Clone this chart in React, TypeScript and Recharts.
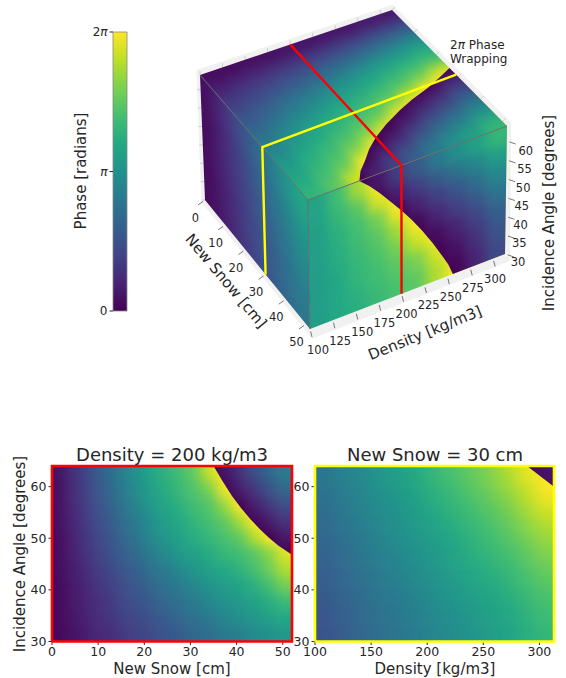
import React from 'react';
import { Bar, BarChart, Scatter, ScatterChart, XAxis, YAxis } from 'recharts';

const FONT = '"DejaVu Sans", sans-serif';
const INK = '#262626';

// Phase readings as percent of one 2-pi cycle, kept unwrapped (100 = one full wrap).
const snowTicks = [0, 10, 20, 30, 40, 50];
const densityTicks = [100, 150, 200, 250, 300];
const cubeDensityTicks = [100, 125, 150, 175, 200, 225, 250, 275, 300];
const angleTicks = [30, 40, 50, 60];
const cubeAngleTicks = [30, 35, 40, 45, 50, 55, 60];
const phaseTicks = [0, Math.PI, 2 * Math.PI];

const sliceSnow = [1.6, 4.9, 8.1, 11.4, 14.6, 17.9, 21.1, 24.4, 27.6, 30.9, 34.1, 37.4, 40.6, 43.9, 47.1, 50.4];
const sliceSnowAngle = [62.5, 59.5, 56.3, 53.2, 50.1, 47, 43.9, 40.8, 37.7, 34.6, 31.5];
const density200Phase = [
  [5, 14, 23, 32, 41, 50, 58, 64, 69, 76, 92, 105, 114, 124, 133, 142],
  [4, 13, 21, 30, 39, 47, 55, 61, 67, 72, 80, 98, 108, 116, 125, 134],
  [4, 12, 20, 28, 36, 44, 52, 58, 63, 69, 73, 84, 100, 108, 116, 124],
  [4, 11, 19, 26, 33, 41, 48, 55, 60, 65, 70, 75, 86, 101, 108, 115],
  [3, 10, 17, 24, 31, 38, 45, 52, 57, 62, 66, 71, 75, 88, 100, 107],
  [3, 9, 16, 22, 28, 34, 41, 47, 53, 57, 61, 66, 69, 74, 82, 95],
  [3, 8, 14, 19, 25, 30, 36, 41, 47, 52, 57, 60, 64, 70, 78, 88],
  [2, 7, 12, 17, 22, 27, 32, 37, 41, 46, 51, 55, 58, 63, 70, 79],
  [2, 7, 11, 15, 20, 24, 28, 33, 37, 41, 46, 50, 54, 57, 62, 68],
  [2, 6, 10, 14, 18, 21, 25, 29, 33, 37, 41, 45, 49, 53, 57, 60],
  [2, 5, 9, 12, 15, 19, 22, 26, 29, 33, 36, 40, 43, 47, 50, 53],
];
const density200Wrap = [[35, 64], [37, 61], [39, 58.2], [41, 55.8], [43, 53.7], [45, 51.8], [47, 50.1], [49, 48.6], [52, 46.8], [52, 64]];

const sliceDensity = [108.2, 124.6, 141, 157.4, 173.8, 190.2, 206.6, 223, 239.4, 255.8, 272.2, 288.6, 305];
const sliceDensityAngle = [62.1, 58.3, 54.6, 50.8, 47, 43.2, 39.4, 35.7, 31.9];
const snow30Phase = [
  [39, 43, 47, 52, 56, 61, 66, 71, 76, 81, 88, 96, 106],
  [37, 41, 45, 49, 53, 58, 63, 67, 72, 77, 83, 90, 99],
  [35, 39, 43, 47, 51, 55, 59, 64, 68, 73, 78, 85, 92],
  [33, 37, 41, 45, 49, 53, 56, 60, 65, 69, 74, 80, 86],
  [31, 35, 39, 43, 46, 50, 54, 58, 62, 66, 70, 75, 81],
  [30, 33, 37, 41, 44, 48, 51, 55, 59, 62, 66, 71, 76],
  [28, 32, 35, 39, 42, 45, 49, 52, 56, 59, 63, 67, 72],
  [27, 30, 34, 37, 40, 43, 47, 50, 53, 57, 60, 64, 69],
  [26, 29, 33, 36, 39, 42, 45, 48, 51, 55, 58, 62, 66],
];
const snow30Wrap = [[289, 64], [313, 60], [313, 64]];

// Cube faces
const faceSnow = [2, 6, 10, 14, 18, 22, 26, 30, 34, 38, 42, 46, 50];
const faceDensity = [110.65, 131.95, 153.25, 174.55, 195.85, 217.15, 238.45, 259.75, 281.05, 302.35];
const topPhase = [
  [3, 8, 14, 19, 25, 30, 36, 42, 47, 53, 57, 61, 65],
  [3, 10, 17, 23, 30, 36, 43, 50, 55, 61, 65, 69, 74],
  [4, 12, 19, 27, 35, 42, 50, 57, 61, 67, 71, 77, 92],
  [4, 13, 22, 30, 39, 47, 55, 61, 67, 73, 82, 100, 109],
  [5, 14, 24, 33, 43, 52, 59, 66, 72, 82, 101, 111, 120],
  [5, 16, 27, 37, 48, 57, 64, 70, 78, 98, 109, 119, 130],
  [6, 18, 29, 41, 53, 60, 69, 76, 96, 108, 119, 130, 141],
  [6, 19, 32, 45, 57, 65, 73, 90, 106, 117, 128, 139, 150],
  [7, 21, 35, 48, 59, 69, 80, 101, 112, 123, 135, 146, 157],
  [7, 22, 37, 52, 62, 72, 94, 109, 120, 132, 143, 155, 166],
];
const topWrap = [[52, 155], [49, 163], [46, 175], [43, 186], [40, 200], [37, 218], [34, 240], [32, 258], [30, 280], [28, 297], [26, 313], [52, 313]];

const faceAngle = [61.6, 56.7, 51.9, 47, 42.1, 37.3, 32.4];
const wallSnow = [3.25, 9.75, 16.25, 22.75, 29.25, 35.75, 42.25, 48.75];
const wallPhase = [
  [4, 12, 20, 28, 36, 44, 52, 59],
  [4, 11, 18, 26, 33, 40, 48, 55],
  [3, 10, 17, 24, 31, 38, 44, 51],
  [3, 10, 16, 22, 29, 35, 41, 48],
  [3, 9, 15, 21, 27, 33, 39, 45],
  [3, 8, 14, 20, 25, 31, 37, 42],
  [3, 8, 13, 19, 24, 30, 35, 40],
];
const frontPhase = [
  [58, 69, 86, 106, 118, 129, 140, 149, 157, 166],
  [57, 66, 74, 94, 108, 118, 128, 137, 145, 155],
  [56, 63, 70, 79, 98, 109, 118, 126, 135, 146],
  [55, 62, 68, 74, 86, 101, 110, 118, 126, 138],
  [55, 61, 66, 71, 79, 92, 103, 110, 119, 130],
  [55, 60, 65, 69, 74, 80, 94, 105, 114, 126],
  [55, 60, 63, 67, 71, 75, 88, 101, 110, 122],
];
const frontWrap = [[155, 64], [166, 61.6], [177, 58.7], [188, 55.5], [200, 52], [211, 48.6], [222, 44.8], [234, 40.2], [245, 35.6], [251, 33], [256, 30], [313, 30], [313, 64]];

const redPath = [[0, 200, 64], [52, 200, 64], [52, 200, 30]];
const yellowPath = [[29, 313, 64], [30, 100, 64], [30, 100, 30]];
const greyEdges = [
  [[0, 100, 64], [52, 100, 64]],
  [[52, 100, 64], [52, 313, 64]],
  [[52, 100, 64], [52, 100, 30]],
];

const VIRIDIS = ['#440154', '#482475', '#414487', '#355f8d', '#2a788e', '#21918c', '#22a884', '#44bf70', '#7ad151', '#bddf26', '#fde725'];
const hex = (h: string) => [1, 3, 5].map((i) => parseInt(h.slice(i, i + 2), 16));
function viridis(t: number) {
  const v = Math.max(0, Math.min(0.9999, t)) * 10;
  const i = Math.floor(v);
  const a = hex(VIRIDIS[i]);
  const b = hex(VIRIDIS[i + 1]);
  const c = a.map((q, k) => Math.round(q + (b[k] - q) * (v - i)));
  return `rgb(${c[0]},${c[1]},${c[2]})`;
}
const below = (p: number) => viridis(Math.min(p, 99.9) / 100);
const above = (p: number) => viridis(Math.max(p - 100, 0) / 100);

// ---- flat heatmaps
function heatCells(rows: number[][], xs: number[], ys: number[]) {
  return rows.flatMap((row, r) =>
    row.map((p, c) => ({
      x: xs[c],
      y: ys[r],
      p,
      left: c === 0,
      right: c === row.length - 1,
      top: r === 0,
      bottom: r === rows.length - 1,
    })),
  );
}

function makeHeatShape(w: number, h: number, colour: (p: number) => string) {
  return (props: any) => {
    const d = props.payload ?? props;
    const pad = 40;
    const x0 = props.cx - w / 2 - (d.left ? pad : 0);
    const x1 = props.cx + w / 2 + (d.right ? pad : 0);
    const y0 = props.cy - h / 2 - (d.top ? pad : 0);
    const y1 = props.cy + h / 2 + (d.bottom ? pad : 0);
    const fill = colour(d.p);
    return <rect x={x0} y={y0} width={x1 - x0} height={y1 - y0} fill={fill} stroke={fill} strokeWidth={0.6} />;
  };
}

type PanelProps = {
  id: string; chartLeft: number; width: number; plotLeft: number; plotRight: number;
  xMin: number; xMax: number; xTicks: number[]; rows: number[][]; xs: number[]; ys: number[];
  wrap: number[][]; title: string; titleX: number; xLabel: string; border: string; yTitle?: boolean; blur: number;
};
const PLOT_TOP = 26;
const PLOT_BOTTOM = 201.5;
const Y_MIN = 30;
const Y_MAX = 64;

function Panel(p: PanelProps) {
  const cells = heatCells(p.rows, p.xs, p.ys);
  const plotW = p.plotRight - p.plotLeft;
  const plotH = PLOT_BOTTOM - PLOT_TOP;
  const w = plotW / p.xs.length;
  const h = plotH / p.ys.length;
  const sx = (x: number) => p.plotLeft + ((x - p.xMin) / (p.xMax - p.xMin)) * plotW;
  const sy = (y: number) => PLOT_BOTTOM - ((y - Y_MIN) / (Y_MAX - Y_MIN)) * plotH;
  const tick = { fill: INK, fontSize: 12.5, fontFamily: FONT };
  const frame = [
    { x: p.xMin, y: Y_MIN }, { x: p.xMax, y: Y_MIN }, { x: p.xMax, y: Y_MAX }, { x: p.xMin, y: Y_MAX }, { x: p.xMin, y: Y_MIN },
  ];
  return (
    <div style={{ position: 'absolute', left: p.chartLeft, top: 440 }}>
      <style>{`.${p.id}-a{filter:blur(${p.blur}px);clip-path:url(#${p.id}-plot)}.${p.id}-b{filter:blur(${p.blur}px);clip-path:url(#${p.id}-wrap)}`}</style>
      <ScatterChart width={p.width} height={238} margin={{ top: PLOT_TOP, bottom: 0, left: 0, right: p.width - p.plotRight }}>
        <defs>
          <clipPath id={`${p.id}-plot`}>
            <rect x={p.plotLeft} y={PLOT_TOP} width={plotW} height={plotH} />
          </clipPath>
          <clipPath id={`${p.id}-wrap`}>
            <polygon points={p.wrap.map(([x, y]) => `${sx(x)},${sy(y)}`).join(' ')} />
          </clipPath>
        </defs>
        <XAxis type="number" dataKey="x" domain={[p.xMin, p.xMax]} ticks={p.xTicks} interval={0} height={36.5}
          axisLine={false} tick={tick} tickSize={3.5} tickMargin={2} tickLine={{ stroke: INK }} />
        <YAxis type="number" dataKey="y" domain={[Y_MIN, Y_MAX]} ticks={angleTicks} interval={0} width={p.plotLeft}
          axisLine={false} tick={tick} tickSize={3.5} tickMargin={2} tickLine={{ stroke: INK }} />
        <Scatter className={`${p.id}-a`} data={cells} isAnimationActive={false} shape={makeHeatShape(w, h, below)} />
        <Scatter className={`${p.id}-b`} data={cells} isAnimationActive={false} shape={makeHeatShape(w, h, above)} />
        <Scatter data={frame} line={{ stroke: p.border, strokeWidth: 2.6, strokeLinejoin: 'miter' }} isAnimationActive={false} shape={NoDot} />
        <text x={p.titleX} y={21} textAnchor="middle" fontFamily={FONT} fontSize={18} fill={INK}>{p.title}</text>
        <text x={p.titleX} y={234} textAnchor="middle" fontFamily={FONT} fontSize={15} fill={INK}>{p.xLabel}</text>
        {p.yTitle && (
          <text transform="translate(25,114) rotate(-90)" textAnchor="middle" fontFamily={FONT} fontSize={15} fill={INK}>
            Incidence Angle [degrees]
          </text>
        )}
      </ScatterChart>
    </div>
  );
}

// ---- cube projection: the eight corners of the box as they fall on the page
const CORNERS: Record<string, number[]> = {
  '000': [205, 200], '001': [200, 75],
  '010': [396, 127], '011': [392, 10],
  '100': [310, 329], '101': [308, 200],
  '110': [505, 254], '111': [507, 126],
};
function project(s: number, rho: number, ang: number): [number, number] {
  const u = s / 52;
  const v = (rho - 100) / 213;
  const w = (ang - 30) / 34;
  let x = 0;
  let y = 0;
  for (const a of [0, 1]) for (const b of [0, 1]) for (const c of [0, 1]) {
    const k = (a ? u : 1 - u) * (b ? v : 1 - v) * (c ? w : 1 - w);
    const q = CORNERS[`${a}${b}${c}`];
    x += k * q[0];
    y += k * q[1];
  }
  return [x, y];
}

function faceCells(rows: number[][], as: number[], bs: number[], map: (a: number, b: number) => [number, number]) {
  const da = (as[1] - as[0]) / 2;
  const db = (bs[1] - bs[0]) / 2;
  return rows.flatMap((row, i) =>
    row.map((p, j) => {
      const a = as[i];
      const b = bs[j];
      const a0 = a - da - (i === 0 ? 5 * da : 0);
      const a1 = a + da + (i === as.length - 1 ? 5 * da : 0);
      const b0 = b - db - (j === 0 ? 5 * db : 0);
      const b1 = b + db + (j === bs.length - 1 ? 5 * db : 0);
      const [x, y] = map(a, b);
      const poly = [map(a0, b0), map(a1, b0), map(a1, b1), map(a0, b1)].map(([px, py]) => [px - x, py - y]);
      return { x, y, p, poly };
    }),
  );
}

function makePolyShape(colour: (p: number) => string) {
  return (props: any) => {
    const d = props.payload ?? props;
    const fill = colour(d.p);
    const pts = d.poly.map(([dx, dy]: number[]) => `${props.cx + dx},${props.cy + dy}`).join(' ');
    return <polygon points={pts} fill={fill} stroke={fill} strokeWidth={0.6} />;
  };
}
const toPoints = (list: number[][]) => list.map(([s, r, a]) => { const [x, y] = project(s, r, a); return { x, y }; });
const polyAttr = (list: [number, number][]) => list.map(([x, y]) => `${x},${y}`).join(' ');

const topCells = faceCells(topPhase, faceDensity, faceSnow, (r, s) => project(s, r, 64));
const wallCells = faceCells(wallPhase, faceAngle, wallSnow, (a, s) => project(s, 100, a));
const frontCells = faceCells(frontPhase, faceAngle, faceDensity, (a, r) => project(52, r, a));

const topOutline = polyAttr([project(0, 100, 64), project(52, 100, 64), project(52, 313, 64), project(0, 313, 64)]);
const wallOutline = polyAttr([project(0, 100, 64), project(52, 100, 64), project(52, 100, 30), project(0, 100, 30)]);
const frontOutline = polyAttr([project(52, 100, 64), project(52, 313, 64), project(52, 313, 30), project(52, 100, 30)]);
const topWrapOutline = polyAttr(topWrap.map(([s, r]) => project(s, r, 64)));
const frontWrapOutline = polyAttr(frontWrap.map(([r, a]) => project(52, r, a)));
const paneOutline = polyAttr([
  project(-0.8, 98, 65), project(-0.5, 315, 65), project(52.5, 316, 65),
  project(53, 316.5, 28.5), project(53.5, 99, 28.5), project(-1, 98, 29),
]);

type TickPoint = { x: number; y: number; label: string; tx: number; ty: number; lx: number; ly: number; from: number; stroke: string };
const snowTickPts: TickPoint[] = snowTicks.map((t) => {
  const [x, y] = project(t, 100, 30);
  return { x, y, label: String(t), tx: -9.5, ty: 18, lx: -7, ly: 5, from: 0.3, stroke: '#555' };
});
const densityTickPts: TickPoint[] = cubeDensityTicks.map((t) => {
  const [x, y] = project(52, t, 30);
  return { x, y, label: String(t), tx: 8 - (6 * (t - 100)) / 200, ty: 20.5, lx: 2, ly: 8, from: 0.3, stroke: '#555' };
});
const angleTickPts: TickPoint[] = cubeAngleTicks.map((t) => {
  const [x, y] = project(52, 313, t);
  const w = (t - 30) / 30;
  return { x, y, label: String(t), tx: 13 + 6 * w, ty: 7.5 + 2.5 * w, lx: 9, ly: 3, from: 0.3, stroke: '#555' };
});
const PANE = '#c4c4c4';
const paneTickPts: TickPoint[] = [
  ...cubeDensityTicks.map((t) => { const [x, y] = project(0, t, 64); return { x, y, label: '', tx: 0, ty: 0, lx: 0, ly: -4, from: 0, stroke: PANE }; }),
  ...snowTicks.map((t) => { const [x, y] = project(t, 313, 64); return { x, y, label: '', tx: 0, ty: 0, lx: 3, ly: -3, from: 0, stroke: PANE }; }),
  ...cubeAngleTicks.map((t) => { const [x, y] = project(0, 100, t); return { x, y, label: '', tx: 0, ty: 0, lx: -3.5, ly: 0, from: 0, stroke: PANE }; }),
];

function TickMark(props: any) {
  const d = props.payload ?? props;
  return (
    <g>
      <line x1={props.cx + d.lx * d.from} y1={props.cy + d.ly * d.from} x2={props.cx + d.lx} y2={props.cy + d.ly} stroke={d.stroke} strokeWidth={0.8} />
      {d.label && (
        <text x={props.cx + d.tx} y={props.cy + d.ty} textAnchor="middle" dominantBaseline="central" fontFamily={FONT} fontSize={11.5} fill={INK}>
          {d.label}
        </text>
      )}
    </g>
  );
}
function NoDot() {
  return <g />;
}

function Cube() {
  const edgeStyle = { stroke: '#666', strokeWidth: 0.9 };
  return (
    <div style={{ position: 'absolute', left: 0, top: 0 }}>
      <style>{`
        .top-a{filter:blur(6px);clip-path:url(#cube-top)}
        .top-b{filter:blur(6px);clip-path:url(#cube-top-wrap)}
        .wall-a{filter:blur(6px);clip-path:url(#cube-wall)}
        .front-a{filter:blur(6px);clip-path:url(#cube-front)}
        .front-b{filter:blur(6px);clip-path:url(#cube-front-wrap)}
      `}</style>
      <ScatterChart width={566} height={440} margin={{ top: 0, right: 0, bottom: 0, left: 0 }}>
        <defs>
          <clipPath id="cube-top"><polygon points={topOutline} /></clipPath>
          <clipPath id="cube-top-wrap"><polygon points={topWrapOutline} /></clipPath>
          <clipPath id="cube-wall"><polygon points={wallOutline} /></clipPath>
          <clipPath id="cube-front"><polygon points={frontOutline} /></clipPath>
          <clipPath id="cube-front-wrap"><polygon points={frontWrapOutline} /></clipPath>
        </defs>
        <XAxis type="number" dataKey="x" domain={[0, 566]} hide />
        <YAxis type="number" dataKey="y" domain={[0, 440]} reversed hide />
        <polygon points={paneOutline} fill="#f1f1f1" />
        <Scatter data={paneTickPts} isAnimationActive={false} shape={TickMark} />
        <Scatter className="top-a" data={topCells} isAnimationActive={false} shape={makePolyShape(below)} />
        <Scatter className="top-b" data={topCells} isAnimationActive={false} shape={makePolyShape(above)} />
        <Scatter className="wall-a" data={wallCells} isAnimationActive={false} shape={makePolyShape(below)} />
        <Scatter className="front-a" data={frontCells} isAnimationActive={false} shape={makePolyShape(below)} />
        <Scatter className="front-b" data={frontCells} isAnimationActive={false} shape={makePolyShape(above)} />
        {greyEdges.map((e, i) => (
          <Scatter key={i} data={toPoints(e)} line={edgeStyle} isAnimationActive={false} shape={NoDot} />
        ))}
        <Scatter data={toPoints(redPath)} line={{ stroke: '#ff0000', strokeWidth: 2.4 }} isAnimationActive={false} shape={NoDot} />
        <Scatter data={toPoints(yellowPath)} line={{ stroke: '#ffff00', strokeWidth: 2.4 }} isAnimationActive={false} shape={NoDot} />
        <Scatter data={snowTickPts} isAnimationActive={false} shape={TickMark} />
        <Scatter data={densityTickPts} isAnimationActive={false} shape={TickMark} />
        <Scatter data={angleTickPts} isAnimationActive={false} shape={TickMark} />
        <text transform="translate(226,281) rotate(50)" textAnchor="middle" dominantBaseline="central" fontFamily={FONT} fontSize={15} fill={INK}>New Snow [cm]</text>
        <text transform="translate(425,333) rotate(-22)" textAnchor="middle" dominantBaseline="central" fontFamily={FONT} fontSize={15} fill={INK}>Density [kg/m3]</text>
        <text transform="translate(549,213) rotate(-90)" textAnchor="middle" dominantBaseline="central" fontFamily={FONT} fontSize={15} fill={INK}>Incidence Angle [degrees]</text>
        <text x={450} y={49} fontFamily={FONT} fontSize={12} fill={INK}>
          2<tspan fontStyle="italic">π</tspan> Phase
        </text>
        <text x={450} y={63} fontFamily={FONT} fontSize={12} fill={INK}>Wrapping</text>
      </ScatterChart>
    </div>
  );
}

const phaseLabels = ['0', 'π', '2π'];
function PhaseTick(props: any) {
  const i = phaseTicks.indexOf(props.payload.value);
  const label = phaseLabels[i];
  return (
    <g>
      <text x={props.x} y={props.y} textAnchor="end" dominantBaseline="central" fontFamily={FONT} fontSize={12} fill={INK}>
        {label.startsWith('2') ? '2' : label === 'π' ? '' : label}
        {label.includes('π') && <tspan fontStyle="italic">π</tspan>}
      </text>
    </g>
  );
}

const barData = [{ name: 'phase', value: 2 * Math.PI }];
function ColourBar() {
  return (
    <div style={{ position: 'absolute', left: 0, top: 0 }}>
      <BarChart width={140} height={330} data={barData} margin={{ top: 32, bottom: 19, left: 0, right: 13 }} barCategoryGap={0}>
        <defs>
          <linearGradient id="viridis-bar" x1="0" y1="1" x2="0" y2="0">
            {VIRIDIS.map((c, i) => <stop key={c} offset={`${i * 10}%`} stopColor={c} />)}
          </linearGradient>
        </defs>
        <XAxis dataKey="name" hide />
        <YAxis type="number" domain={[0, 2 * Math.PI]} ticks={phaseTicks} interval={0} width={113} axisLine={false}
          tick={<PhaseTick />} tickSize={3.5} tickMargin={2} tickLine={{ stroke: INK }} />
        <Bar dataKey="value" fill="url(#viridis-bar)" stroke="#888" strokeWidth={0.8} isAnimationActive={false} />
        <text transform="translate(81,171) rotate(-90)" textAnchor="middle" dominantBaseline="central" fontFamily={FONT} fontSize={15} fill={INK}>Phase [radians]</text>
      </BarChart>
    </div>
  );
}

export default function App() {
  return (
    <div style={{ position: 'absolute', left: 0, top: 0, width: 566, height: 678, background: '#fff', overflow: 'hidden' }}>
      <Cube />
      <ColourBar />
      <Panel id="left" chartLeft={0} width={300} plotLeft={52} plotRight={292} xMin={0} xMax={52} xTicks={snowTicks}
        rows={density200Phase} xs={sliceSnow} ys={sliceSnowAngle} wrap={density200Wrap} title="Density = 200 kg/m3" titleX={172}
        xLabel="New Snow [cm]" border="#ff0000" yTitle blur={6} />
      <Panel id="right" chartLeft={290} width={276} plotLeft={25} plotRight={264} xMin={100} xMax={313} xTicks={densityTicks}
        rows={snow30Phase} xs={sliceDensity} ys={sliceDensityAngle} wrap={snow30Wrap} title="New Snow = 30 cm" titleX={145}
        xLabel="Density [kg/m3]" border="#ffff00" blur={8} />
    </div>
  );
}
